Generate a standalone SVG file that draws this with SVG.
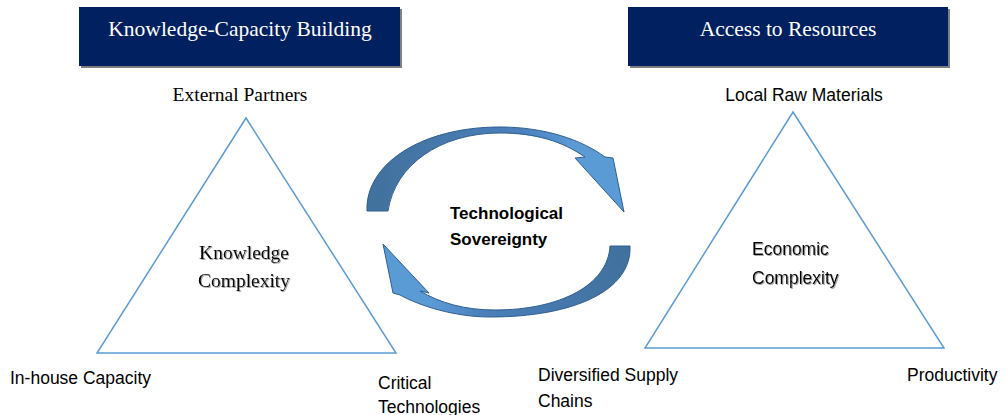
<svg xmlns="http://www.w3.org/2000/svg" width="1006" height="415" viewBox="0 0 1006 415">
<style>
.hdr{fill:#002060}
.shd{fill:#7f7f7f}
.htxt{font-family:"Liberation Serif",serif;font-size:21.5px;fill:#ffffff;text-anchor:middle}
.serif{font-family:"Liberation Serif",serif;font-size:19.5px;fill:#000}
.sans{font-family:"Liberation Sans",Arial,sans-serif;font-size:17.5px;fill:#000}
.bold{font-family:"Liberation Sans",Arial,sans-serif;font-size:17px;font-weight:bold;fill:#000}
.tri{fill:none;stroke:#5b9bd5;stroke-width:1.5}
.arr{stroke:#2f5f8f;stroke-width:1;stroke-linejoin:miter}
</style>
<defs>
<linearGradient id="gTop" x1="0" y1="0" x2="1" y2="0">
<stop offset="0" stop-color="#41719c"/>
<stop offset="0.6" stop-color="#4a7fbc"/>
<stop offset="0.8" stop-color="#5b9bd5"/>
<stop offset="1" stop-color="#5b9bd5"/>
</linearGradient>
<linearGradient id="gBot" x1="1" y1="0" x2="0" y2="0">
<stop offset="0" stop-color="#41719c"/>
<stop offset="0.6" stop-color="#4a7fbc"/>
<stop offset="0.8" stop-color="#5b9bd5"/>
<stop offset="1" stop-color="#5b9bd5"/>
</linearGradient>
<filter id="ts" x="-10%" y="-20%" width="130%" height="150%">
<feDropShadow dx="1" dy="1" stdDeviation="0.6" flood-color="#808080" flood-opacity="0.7"/>
</filter>
</defs>

<g id="header-knowledge">
<rect class="shd" x="81" y="9" width="321" height="59"/>
<rect class="hdr" x="79" y="7" width="321" height="59"/>
<text class="htxt" x="240" y="36">Knowledge-Capacity Building</text>
</g>

<g id="header-access">
<rect class="shd" x="630" y="9" width="320" height="59"/>
<rect class="hdr" x="628" y="7" width="320" height="59"/>
<text class="htxt" x="788" y="36">Access to Resources</text>
</g>

<g id="triangle-knowledge">
<polygon class="tri" points="246,118 97,353 396,353"/>
<text class="serif" x="244" y="259" text-anchor="middle" filter="url(#ts)">Knowledge</text>
<text class="serif" x="244" y="287" text-anchor="middle" filter="url(#ts)">Complexity</text>
</g>

<g id="triangle-economic">
<polygon class="tri" points="793,112 645,348 944,348"/>
<text class="sans" x="752" y="255" filter="url(#ts)">Economic</text>
<text class="sans" x="752" y="284" filter="url(#ts)">Complexity</text>
</g>

<g id="node-external-partners"><text class="serif" x="240" y="101" text-anchor="middle">External Partners</text></g>
<g id="node-inhouse"><text class="sans" x="10" y="384">In-house Capacity</text></g>
<g id="node-critical"><text class="sans" x="378" y="389">Critical</text><text class="sans" x="378" y="413">Technologies</text></g>
<g id="node-local-raw"><text class="sans" x="804" y="101" text-anchor="middle">Local Raw Materials</text></g>
<g id="node-diversified"><text class="sans" x="538" y="381">Diversified Supply</text><text class="sans" x="538" y="407">Chains</text></g>
<g id="node-productivity"><text class="sans" x="907" y="381">Productivity</text></g>

<g id="center-sovereignty">
<text class="bold" x="450" y="219">Technological</text>
<text class="bold" x="450" y="245">Sovereignty</text>
</g>

<g id="connectors">
<path class="arr" fill="url(#gTop)" d="M367,211 C365,165 420,127 500,127 C545,127 582,140 605,157 L613,158 L624,212 L575,158 L585,157 C562,141 535,133 500,133 C440,133 395,165 388,211 Z"/>
<path class="arr" fill="url(#gBot)" d="M630,246 C632,290 575,317 490,317 C455,317 420,306 400,295 L393,293 L383,244 L429,293 L420,291 C440,303 465,310 495,310 C560,310 608,285 610,246 Z"/>
</g>
</svg>
